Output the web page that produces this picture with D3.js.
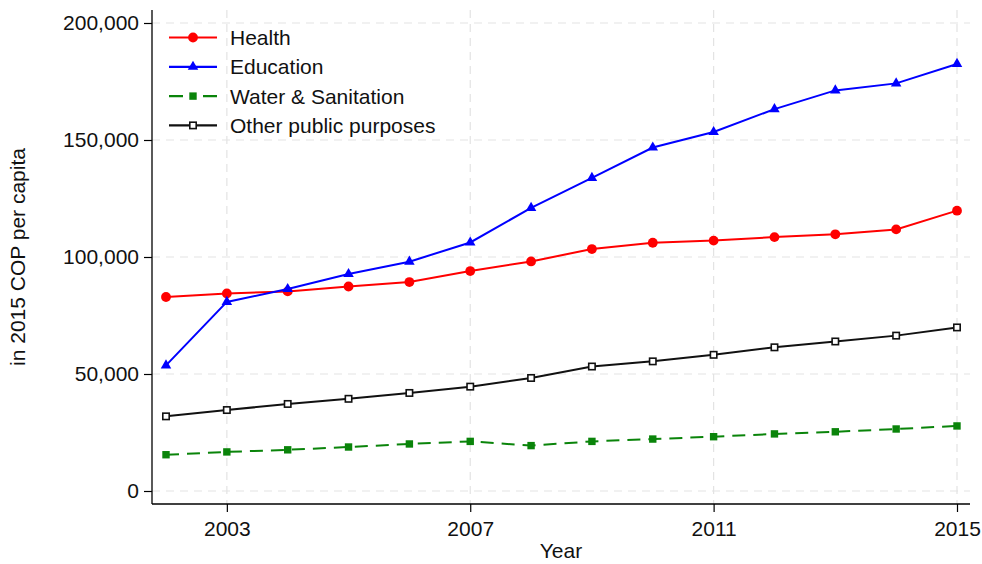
<!DOCTYPE html>
<html>
<head>
<meta charset="utf-8">
<script src="https://cdn.jsdelivr.net/npm/d3@7"></script>
<style>
  html, body { margin: 0; padding: 0; background: #fff; }
  svg { display: block; font-family: "Liberation Sans", Arial, sans-serif; }
</style>
</head>
<body>
<svg id="chart" width="982" height="564"></svg>
<script>
// Public spending per capita, in 2015 COP
const years = [2002, 2003, 2004, 2005, 2006, 2007, 2008, 2009, 2010, 2011, 2012, 2013, 2014, 2015];
const health = [82900, 84400, 85300, 87400, 89300, 94000, 98100, 103400, 106100, 107000, 108500, 109700, 111800, 119800];
const education = [53700, 80800, 86300, 92700, 98000, 106200, 121000, 133800, 146800, 153400, 163200, 171200, 174200, 182500];
const water = [15500, 16700, 17600, 18800, 20100, 21200, 19400, 21200, 22200, 23200, 24400, 25300, 26500, 27800];
const other = [31900, 34600, 37200, 39400, 41900, 44600, 48300, 53200, 55400, 58200, 61400, 63900, 66400, 69900];
const xTicks = [2003, 2007, 2011, 2015];
const yTicks = [0, 50000, 100000, 150000, 200000];

const series = [
  { name: "Health", values: health, color: "#ff0000", marker: "circle", dash: null, legendDash: null },
  { name: "Education", values: education, color: "#0000ff", marker: "triangle", dash: null, legendDash: null },
  { name: "Water & Sanitation", values: water, color: "#0a840a", marker: "square", dash: "13,8", legendDash: "14,20" },
  { name: "Other public purposes", values: other, color: "#111111", marker: "hollowSquare", dash: null, legendDash: null }
];

const svg = d3.select("#chart");
const plotLeft = 152, plotRight = 970, plotTop = 10, plotBottom = 504;
const fontSize = 21;

const x = d3.scaleLinear().domain([2002, 2015]).range([166, 957]);
const y = d3.scaleLinear().domain([0, 200000]).range([491, 23]);

// grid
const grid = svg.append("g").attr("stroke", "#e3e3e3").attr("stroke-width", 1.2).attr("stroke-dasharray", "8,6");
yTicks.forEach(t => grid.append("line").attr("x1", plotLeft).attr("x2", plotRight).attr("y1", y(t)).attr("y2", y(t)));
xTicks.forEach(t => grid.append("line").attr("x1", x(t)).attr("x2", x(t)).attr("y1", plotTop).attr("y2", plotBottom));

// axes
const fmt = d3.format(",");
const yAxis = svg.append("g").attr("transform", `translate(${plotLeft},0)`)
  .call(d3.axisLeft(y).tickValues(yTicks).tickFormat(fmt).tickSize(8).tickPadding(5));
yAxis.select(".domain").attr("d", `M0,${plotTop}V${plotBottom}`).attr("stroke", "#000").attr("stroke-width", 1.3);
yAxis.selectAll(".tick line").attr("stroke", "#000").attr("stroke-width", 1.2);
yAxis.selectAll(".tick text").attr("font-size", fontSize).attr("fill", "#111").attr("font-family", "Liberation Sans, Arial, sans-serif");

const xAxis = svg.append("g").attr("transform", `translate(0,${plotBottom})`)
  .call(d3.axisBottom(x).tickValues(xTicks).tickFormat(d3.format("d")).tickSize(8).tickPadding(9));
xAxis.select(".domain").attr("d", `M${plotLeft},0H${plotRight}`).attr("stroke", "#000").attr("stroke-width", 1.3);
xAxis.selectAll(".tick line").attr("stroke", "#000").attr("stroke-width", 1.2);
xAxis.selectAll(".tick text").attr("font-size", fontSize).attr("fill", "#111").attr("font-family", "Liberation Sans, Arial, sans-serif");

// axis titles
svg.append("text").attr("x", 561).attr("y", 558).attr("text-anchor", "middle")
  .attr("font-size", fontSize).attr("fill", "#111").text("Year");
svg.append("text").attr("transform", "translate(25,257) rotate(-90)").attr("text-anchor", "middle")
  .attr("font-size", fontSize).attr("fill", "#111").text("in 2015 COP per capita");

function drawMarker(g, type, color, cx, cy) {
  if (type === "circle") {
    g.append("circle").attr("cx", cx).attr("cy", cy).attr("r", 4.9).attr("fill", color);
  } else if (type === "triangle") {
    g.append("path").attr("d", d3.symbol(d3.symbolTriangle, 48)()).attr("transform", `translate(${cx},${cy})`).attr("fill", color);
  } else if (type === "square") {
    g.append("rect").attr("x", cx - 3.7).attr("y", cy - 3.7).attr("width", 7.4).attr("height", 7.4).attr("fill", color);
  } else {
    g.append("rect").attr("x", cx - 3.2).attr("y", cy - 3.2).attr("width", 6.4).attr("height", 6.4)
      .attr("fill", "#fff").attr("stroke", color).attr("stroke-width", 1.6);
  }
}

const line = d3.line().x((d, i) => x(years[i])).y(d => y(d));
series.forEach(s => {
  const g = svg.append("g");
  g.append("path").datum(s.values).attr("d", line).attr("fill", "none")
    .attr("stroke", s.color).attr("stroke-width", 2)
    .attr("stroke-dasharray", s.dash);
  s.values.forEach((v, i) => drawMarker(g, s.marker, s.color, x(years[i]), y(v)));
});

// legend
const legend = svg.append("g");
series.forEach((s, i) => {
  const ly = 37.5 + i * 29.3;
  const g = legend.append("g");
  g.append("line").attr("x1", 169).attr("x2", 217).attr("y1", ly).attr("y2", ly)
    .attr("stroke", s.color).attr("stroke-width", 2.2).attr("stroke-dasharray", s.legendDash);
  drawMarker(g, s.marker, s.color, 193, ly);
  g.append("text").attr("x", 230).attr("y", ly + 7.5).attr("font-size", fontSize).attr("fill", "#111").text(s.name);
});
</script>
</body>
</html>
